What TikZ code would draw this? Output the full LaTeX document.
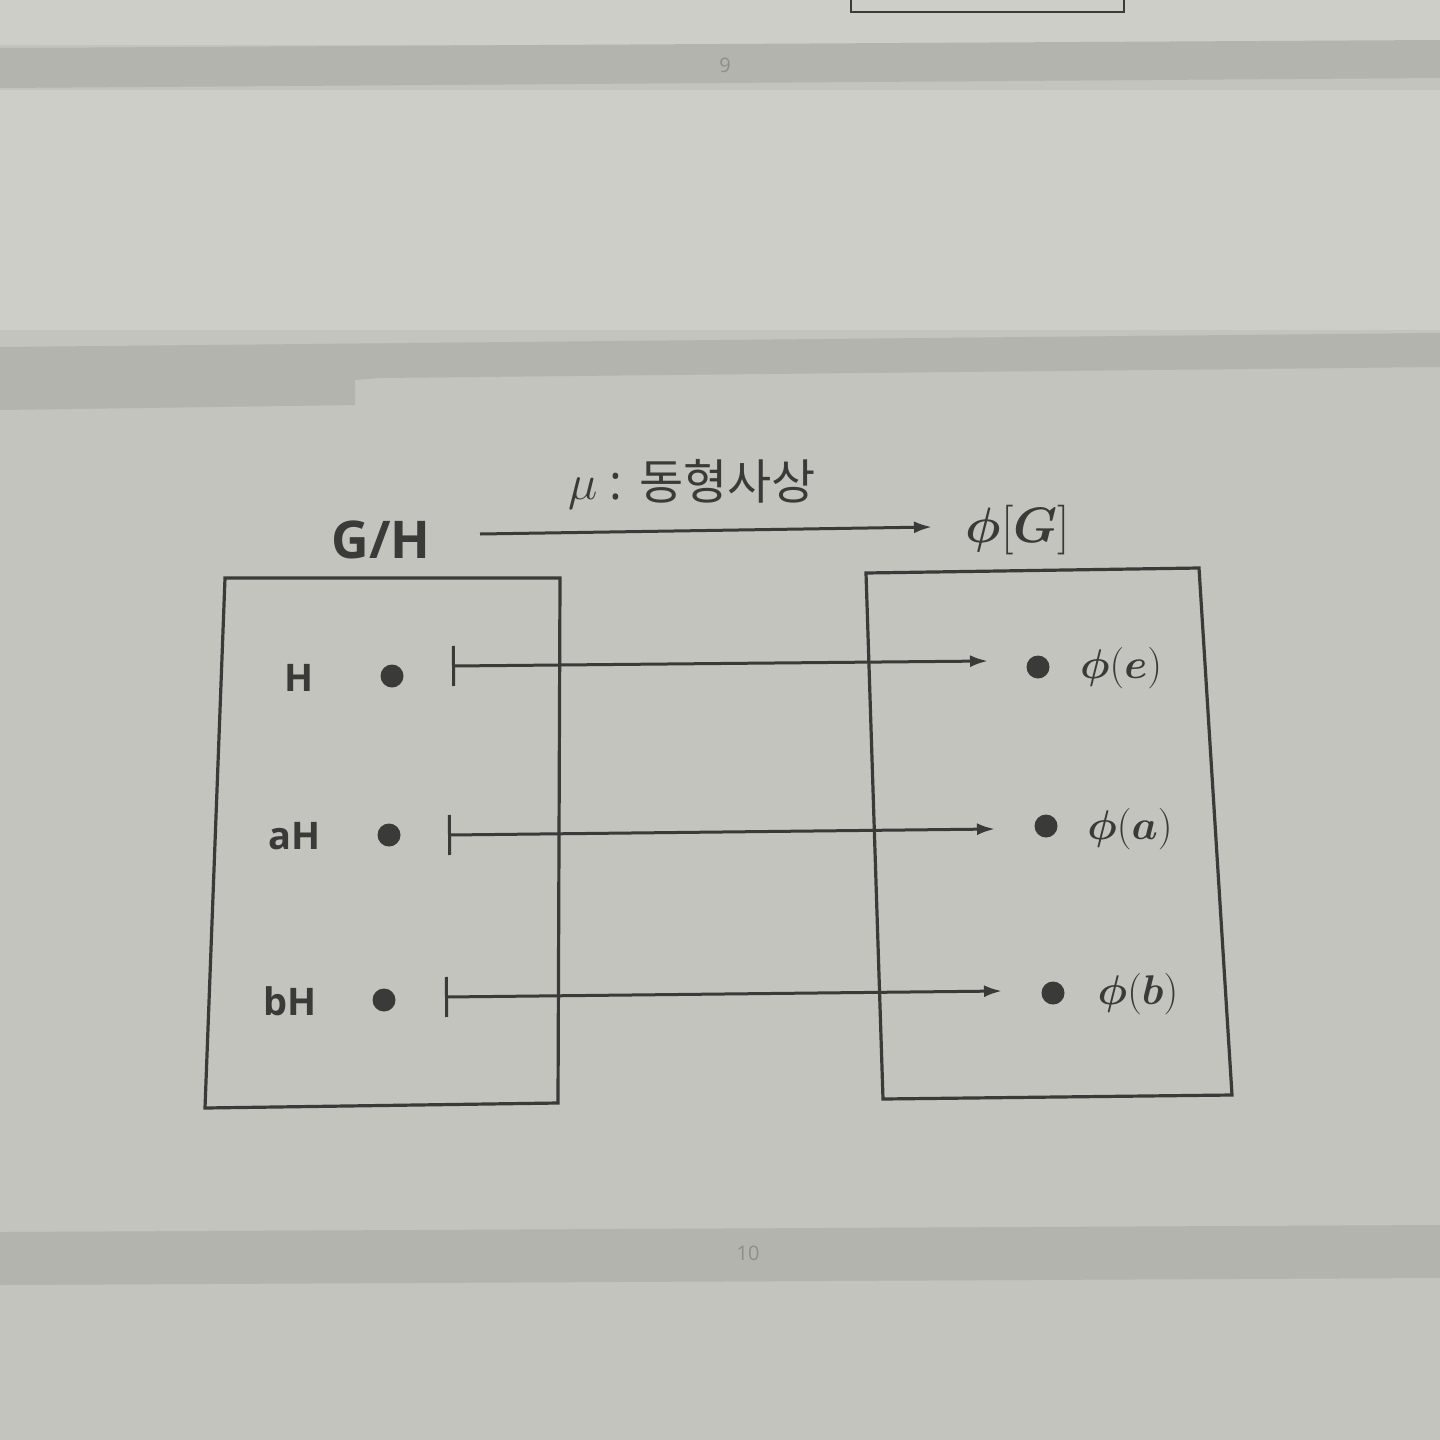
\documentclass[tikz,border=0pt]{standalone}
\usepackage{fontspec}
\usepackage{amsmath}
\setmainfont{Open Sans}
\newfontfamily\kr{Noto Sans CJK KR}
\usetikzlibrary{arrows.meta}
\definecolor{paper}{HTML}{C3C4BD}
\definecolor{paperlight}{HTML}{CDCEC8}
\definecolor{band}{HTML}{B3B4AD}
\definecolor{ink}{HTML}{3A3B38}
\definecolor{pagenum}{HTML}{8E8F8A}
\tikzset{
  boxline/.style={draw=ink, line width=1.6pt, line join=miter},
  dotst/.style={circle, fill=ink, inner sep=0pt, minimum size=11.5pt},
  maparrow/.style={draw=ink, line width=1.5pt, {Bar[width=20pt,line width=1.5pt]}-{Latex[length=9pt,width=6pt]}},
  toparrow/.style={draw=ink, line width=1.5pt, -{Latex[length=9pt,width=6pt]}},
  elemlabel/.style={font=\bfseries\fontsize{19}{19}\selectfont, text=ink},
  imglabel/.style={font=\fontsize{21}{21}\selectfont, text=ink},
  setlabel/.style={font=\bfseries\fontsize{26}{26}\selectfont, text=ink},
  pnum/.style={font=\fontsize{10}{10}\selectfont, text=pagenum}
}
\begin{document}
\begin{tikzpicture}[x=0.5pt, y=-0.5pt]
\useasboundingbox (0,0) rectangle (1440,1440);
% paper
\fill[paper] (0,0) rectangle (1440,1440);
\fill[paperlight] (0,90) rectangle (1440,330);
\fill[paperlight] (0,0) rectangle (1440,45);
% bands between pages
\fill[band] (0,48) -- (1440,40) -- (1440,78) -- (0,88) -- cycle;
\fill[band] (0,347) -- (1440,333) -- (1440,367) -- (380,378) -- (355,380) -- (355,405) -- (0,410) -- cycle;
\fill[band] (0,1232) -- (1440,1225) -- (1440,1278) -- (0,1285) -- cycle;
\node[pnum] (p9) at (725,65) {9};
\node[pnum] (p10) at (748,1253) {10};
% fragment of the box on the previous page
\draw[draw=ink, line width=1.2pt] (851,-5) -- (851,12) -- (1124,12) -- (1124,-5);
% set labels and top arrow
\node[setlabel] (GH) at (381,540) {G/H};
\node[font=\fontsize{31}{31}\selectfont, text=ink] (PG) at (1018,530) {$\boldsymbol{\phi}[\boldsymbol{G}]$};
\coordinate (ts) at (480,534);
\coordinate (te) at (932,527);
\draw[toparrow] (ts) -- (te);
\node[text=ink, font=\fontsize{24}{24}\selectfont] (mu) at (692,484) {$\mu$ : {\kr 동형사상}};
% boxes
\draw[boxline] (225,578) -- (560,578) -- (558,1103) -- (205,1108) -- cycle;
\draw[boxline] (866,573) -- (1199,568) -- (1232,1095) -- (883,1099) -- cycle;
% left elements
\node[elemlabel] (lH) at (299,678) {H};
\node[elemlabel] (laH) at (295,836) {aH};
\node[elemlabel] (lbH) at (290,1001) {bH};
\node[dotst] (dH) at (392,676) {};
\node[dotst] (daH) at (389,835) {};
\node[dotst] (dbH) at (384,1000) {};
% right elements
\node[dotst] (de) at (1038,667) {};
\node[dotst] (da) at (1046,826) {};
\node[dotst] (db) at (1053,993) {};
\node[imglabel] (le) at (1121,668) {$\boldsymbol{\phi}(\boldsymbol{e})$};
\node[imglabel] (la) at (1130,829) {$\boldsymbol{\phi}(\boldsymbol{a})$};
\node[imglabel] (lb) at (1138,994) {$\boldsymbol{\phi}(\boldsymbol{b})$};
% maps
\coordinate (s1) at (452,666);
\coordinate (e1) at (988,661);
\coordinate (s2) at (448,835);
\coordinate (e2) at (995,829);
\coordinate (s3) at (445,997);
\coordinate (e3) at (1002,991);
\draw[maparrow] (s1) -- (e1);
\draw[maparrow] (s2) -- (e2);
\draw[maparrow] (s3) -- (e3);
\end{tikzpicture}
\end{document}
